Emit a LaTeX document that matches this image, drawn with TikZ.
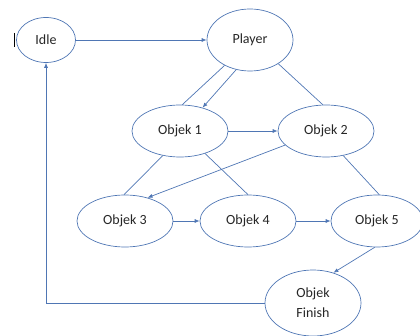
\documentclass[tikz,border=0pt]{standalone}
\usepackage{fontspec}
\setmainfont{Carlito}
\usetikzlibrary{shapes.geometric,arrows.meta}

\definecolor{lineblue}{HTML}{4F76B4}
\definecolor{textgray}{HTML}{262626}

\tikzset{
  state/.style={ellipse, draw=lineblue, line width=0.7pt, inner sep=0pt,
    text=textgray, font=\fontsize{14}{20}\selectfont, align=center},
  link/.style={draw=lineblue, line width=0.7pt},
  flow/.style={link, -{Latex[length=5pt,width=4pt]}}
}

\begin{document}
\begin{tikzpicture}[x=1pt,y=-1pt]
  \useasboundingbox (0,0) rectangle (420,336);

  \node[state, minimum width=59pt, minimum height=45pt] (idle) at (46,40) {Idle};
  \node[state, minimum width=86pt, minimum height=62pt] (player) at (250,40) {Player};
  \node[state, minimum width=96pt, minimum height=52pt] (obj1) at (180,131) {Objek 1};
  \node[state, minimum width=96pt, minimum height=52pt] (obj2) at (326,131) {Objek 2};
  \node[state, minimum width=96pt, minimum height=52pt] (obj3) at (125,221) {Objek 3};
  \node[state, minimum width=96pt, minimum height=52pt] (obj4) at (248,221) {Objek 4};
  \node[state, minimum width=92pt, minimum height=52pt] (obj5) at (377,221) {Objek 5};
  \node[state, minimum width=96pt, minimum height=66pt] (finish) at (313,303) {Objek\\Finish};

  % cursor mark
  \draw[black, line width=0.6pt] (14,33) -- (14,47);

  \draw[flow] (idle) -- (player);
  \draw[link] (player.225) -- (obj1.85);
  \draw[flow] (player.245) -- (obj1.46);
  \draw[link] (player.320) -- (obj2.97);
  \draw[flow] (obj1) -- (obj2);
  \draw[link] (obj1.235) -- (obj3.92);
  \draw[link] (obj1.318) -- (obj4.90);
  \draw[flow] (obj2.199) -- (obj3.46);
  \draw[link] (obj2.305) -- (obj5.85);
  \draw[flow] (obj3) -- (obj4);
  \draw[flow] (obj4) -- (obj5);
  \draw[flow] (obj5.265) -- (finish.56);
  \draw[flow] (finish.west) -| (idle.south);
\end{tikzpicture}
\end{document}
